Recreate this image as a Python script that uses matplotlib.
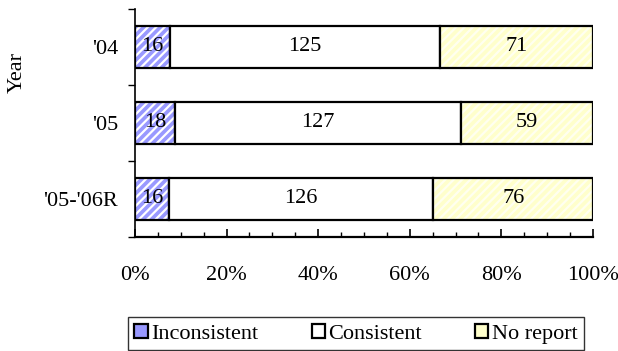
import numpy as np
import matplotlib.pyplot as plt
from matplotlib.ticker import MultipleLocator, PercentFormatter

plt.rcParams['font.family'] = ['Liberation Serif', 'DejaVu Serif']
plt.rcParams['hatch.linewidth'] = 1.6

# Counts per year
years = ["'04", "'05", "'05-'06R"]
inconsistent = [16, 18, 16]
consistent = [125, 127, 126]
no_report = [71, 59, 76]

series = [
    ('Inconsistent', inconsistent, '#9999ff', 'white', '////'),
    ('Consistent', consistent, 'white', 'white', None),
    ('No report', no_report, '#ffffcc', '#fffff0', '////'),
]

totals = np.array(inconsistent) + np.array(consistent) + np.array(no_report)
ypos = np.arange(len(years))[::-1]

fig = plt.figure(figsize=(6.18, 3.51), dpi=100)
ax = fig.add_axes([0.2184, 0.3248, 0.7411, 0.6496])

left = np.zeros(len(years))
for name, vals, face, hcol, hatch in series:
    share = np.array(vals) / totals * 100
    # hatch colour comes from edgecolor, so draw the fill first, then the black outline
    ax.barh(ypos, share, left=left, height=0.55, color=face, edgecolor=hcol,
            hatch=hatch, linewidth=0)
    ax.barh(ypos, share, left=left, height=0.55, facecolor='none',
            edgecolor='black', linewidth=1.6)
    for y, l, s, v in zip(ypos, left, share, vals):
        ax.text(l + s / 2, y, str(v), ha='center', va='center', fontsize=16)
    left += share

ax.set_xlim(0, 100)
ax.set_ylim(-0.5, 2.5)
ax.xaxis.set_major_locator(MultipleLocator(20))
ax.xaxis.set_minor_locator(MultipleLocator(5))
ax.xaxis.set_major_formatter(PercentFormatter(decimals=0))
ax.tick_params(axis='x', which='major', direction='in', length=6, width=1.2, pad=21, labelsize=16)
ax.tick_params(axis='x', which='minor', direction='in', length=3.5, width=1)
ax.set_yticks([-0.5, 0.5, 1.5, 2.5])
ax.set_yticklabels([])
ax.set_yticks(ypos, minor=True)
ax.set_yticklabels(years, minor=True, fontsize=16)
ax.tick_params(axis='y', which='major', direction='out', length=5, width=1)
ax.tick_params(axis='y', which='minor', length=0, pad=12)
ax.spines['top'].set_visible(False)
ax.spines['right'].set_visible(False)
ax.spines['left'].set_linewidth(1.2)
ax.spines['bottom'].set_linewidth(1.6)
ax.set_ylabel('Year', fontsize=16)
ax.yaxis.set_label_coords(-0.236, 0.72)

handles = [plt.Rectangle((0, 0), 1, 1, facecolor=face, edgecolor='black',
                         linewidth=1.6) for _, _, face, _, _ in series]
leg = fig.legend(handles, [s[0] for s in series], loc='upper center',
                 bbox_to_anchor=(0.576, 0.097), borderaxespad=0, ncol=3,
                 fontsize=16, frameon=True, fancybox=False, edgecolor='black',
                 handlelength=0.6, handleheight=0.6, handletextpad=0.15,
                 columnspacing=2.4, borderpad=0.3)
leg.get_frame().set_linewidth(1.0)

fig.savefig('out.png', dpi=100)
